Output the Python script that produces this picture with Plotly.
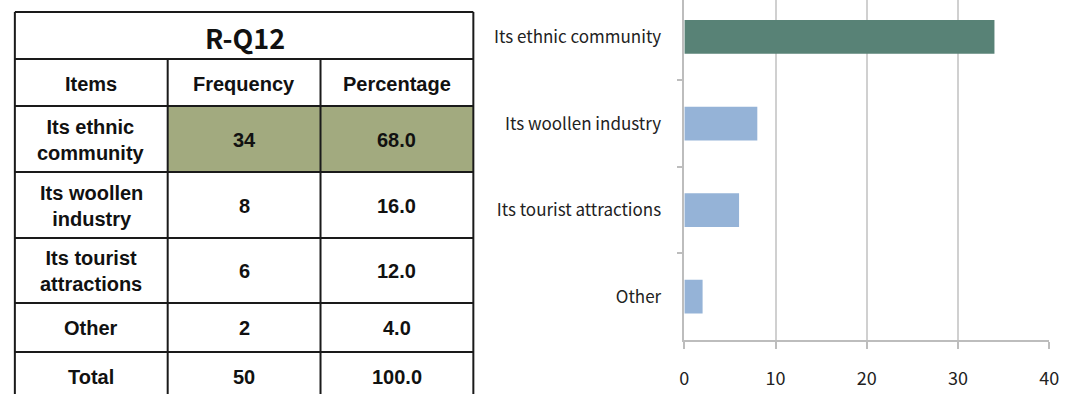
import plotly.graph_objects as go

# ---- data ----
table_title = "R-Q12"
header = ["Items", "Frequency", "Percentage"]
items = ["Its ethnic<br>community", "Its woollen<br>industry", "Its tourist<br>attractions", "Other", "Total"]
frequency = ["34", "8", "6", "2", "50"]
percentage = ["68.0", "16.0", "12.0", "4.0", "100.0"]

categories = ["Its ethnic community", "Its woollen industry", "Its tourist attractions", "Other"]
counts = [34, 8, 6, 2]
bar_colors = ["#588276", "#95b3d7", "#95b3d7", "#95b3d7"]
x_ticks = [0, 10, 20, 30, 40]

W, H = 1071, 394


def px(x):
    return x / W


def py(y):
    return 1 - y / H


fig = go.Figure()

fig.add_trace(go.Bar(
    y=categories, x=counts, orientation="h",
    marker=dict(color=bar_colors, line=dict(width=0)),
    width=0.39, showlegend=False, hoverinfo="x+y",
))

# ---- table drawn with shapes and annotations ----
shapes = []
annotations = []
line_col = "#1a1a1a"
tx0, tx1 = 10, 475
col_x = [10, 165, 320, 475]
row_y = [12, 59, 106, 172, 238, 303, 352, 420]

# highlighted cells for the leading item
shapes.append(dict(type="rect", xref="paper", yref="paper",
                   x0=px(col_x[1]), x1=px(col_x[3]), y0=py(row_y[2]), y1=py(row_y[3]),
                   fillcolor="#a2aa7f", line=dict(width=0), layer="below"))

# horizontal rules
for y in row_y[:-1]:
    shapes.append(dict(type="line", xref="paper", yref="paper",
                       x0=px(tx0), x1=px(tx1), y0=py(y), y1=py(y),
                       line=dict(color=line_col, width=2)))
# outer verticals
for x in (tx0, tx1):
    shapes.append(dict(type="line", xref="paper", yref="paper",
                       x0=px(x), x1=px(x), y0=py(row_y[0]), y1=py(row_y[-1]),
                       line=dict(color=line_col, width=2)))
# inner column dividers
for x in col_x[1:3]:
    shapes.append(dict(type="line", xref="paper", yref="paper",
                       x0=px(x), x1=px(x), y0=py(row_y[1]), y1=py(row_y[-1]),
                       line=dict(color=line_col, width=2)))

cell_font = dict(family="Liberation Sans, Arial", size=20, color="#111111")

annotations.append(dict(text="<b>" + table_title + "</b>", xref="paper", yref="paper",
                        x=px(243), y=py(38), showarrow=False,
                        xanchor="center", yanchor="middle",
                        font=dict(family="Noto Sans CJK KR", size=27, color="#111111")))


def cell(text, ci, yc):
    annotations.append(dict(text="<b>" + text.replace("<br>", "</b><br><b>") + "</b>",
                            xref="paper", yref="paper",
                            x=px((col_x[ci] + col_x[ci + 1]) / 2), y=py(yc),
                            showarrow=False, xanchor="center", yanchor="middle",
                            font=cell_font))


for ci, h in enumerate(header):
    cell(h, ci, 84)

row_centres = [140, 206, 271, 328, 377]
for r in range(len(items)):
    cell(items[r], 0, row_centres[r])
    cell(frequency[r], 1, row_centres[r])
    cell(percentage[r], 2, row_centres[r])

grid_col = "#d0d0d0"
fig.update_layout(
    width=W, height=H,
    margin=dict(l=0, r=0, t=0, b=0),
    paper_bgcolor="white", plot_bgcolor="white",
    shapes=shapes, annotations=annotations,
    xaxis=dict(
        domain=[px(689), px(1059)], range=[0, 40], tickvals=x_ticks,
        showgrid=True, gridcolor=grid_col, gridwidth=1.5, zeroline=False,
        showline=True, linecolor="#bdbdbd", linewidth=1.5,
        ticks="outside", ticklen=7, tickcolor="#bdbdbd", tickwidth=1.5,
        ticklabelstandoff=15,
        tickfont=dict(family="Noto Sans CJK KR", size=18, color="#222222"),
        fixedrange=True,
    ),
    yaxis=dict(
        domain=[1 - 340 / H, 1], type="category",
        categoryorder="array", categoryarray=categories,
        range=[3.5, -0.427], tickson="boundaries",
        showgrid=False, zeroline=False,
        showline=True, linecolor="#bdbdbd", linewidth=1.5,
        ticks="outside", ticklen=6, tickcolor="#bdbdbd", tickwidth=1.5,
        ticklabelstandoff=18,
        tickfont=dict(family="Noto Sans CJK KR", size=17, color="#222222"),
        fixedrange=True,
    ),
)

fig.write_html("out.html")
